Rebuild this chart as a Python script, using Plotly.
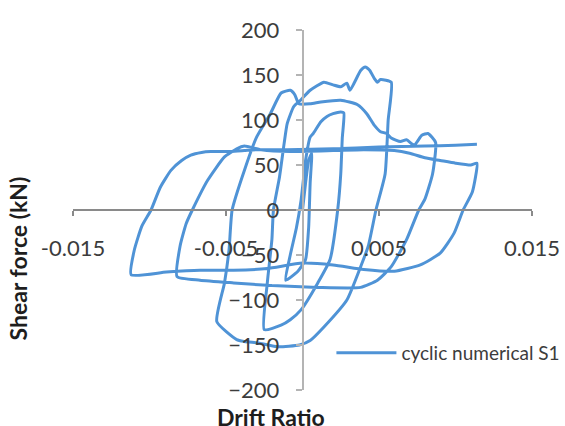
import plotly.graph_objects as go

# Load path of the cyclic analysis, split into half-cycles (drift ratio, shear force in kN)
drift_initial = [0.0, 0.0002, 0.0004, 0.0006]
shear_initial = [0, 30, 55, 63]

drift_unload_1 = [0.0005, 0.0004, 0.0002, -0.0003, -0.0011]
shear_unload_1 = [30, -20, -55, -68, -78]

drift_reload_1 = [-0.0008, -0.0004, -0.0001, 0.0001, 0.0002, 0.0005, 0.0007, 0.0012, 0.0016, 0.0020, 0.0025, 0.0027]
shear_reload_1 = [-50, -20, 10, 40, 55, 81, 85, 98, 104, 107, 109, 108]

drift_unload_2 = [0.0026, 0.0025, 0.0023, 0.0018, 0.0010, -0.0001, -0.0008, -0.0014, -0.0025]
shear_unload_2 = [80, 40, 0, -55, -81, -111, -122, -128, -133]

drift_reload_2 = [-0.0023, -0.0020, -0.0019, -0.0015, -0.0012, -0.0010, -0.00057, -0.00013, 0.0005, 0.0014,
                  0.0020, 0.0025, 0.0029, 0.0031, 0.0038, 0.0041, 0.0044, 0.0047, 0.0049, 0.0051, 0.0058]
shear_reload_2 = [-81, -33, 0, 37, 74, 96, 115, 122, 133, 142,
                  139, 137, 141, 133, 155, 159, 155, 146, 142, 145, 142]

drift_unload_3 = [0.0056, 0.0054, 0.0048, 0.0043, 0.0038, 0.0029, 0.0014, 0.0005, -0.0002, -0.0016,
                  -0.0028, -0.0038, -0.0043, -0.0056]
shear_unload_3 = [100, 40, 0, -40, -63, -100, -130, -145, -150, -152,
                  -148, -146, -144, -124]

drift_reload_3 = [-0.0051, -0.0048, -0.0046, -0.0038, -0.0030, -0.0021, -0.0014, -0.0008, -0.0005, -0.00024,
                  0.0005, 0.0012, 0.0025, 0.0036, 0.0042, 0.0047, 0.0051, 0.0055, 0.0058, 0.0064,
                  0.0068, 0.0073, 0.0078, 0.0082, 0.0087]
shear_reload_3 = [-81, -44, 0, 44, 81, 107, 130, 133, 128, 118,
                  118, 120, 122, 117, 107, 94, 87, 85, 80, 76,
                  78, 72, 83, 85, 75]

drift_unload_4 = [0.0085, 0.0080, 0.0076, 0.0068, 0.0058, 0.0049, 0.0038, 0.0010, -0.0020, -0.0045, -0.0067, -0.0082]
shear_unload_4 = [40, 12, 0, -33, -63, -78, -86, -86, -84, -81, -78, -74]

drift_reload_4 = [-0.0080, -0.0076, -0.0072, -0.0062, -0.0051, -0.0043, -0.0038, -0.0027, -0.0008, 0.0020,
                  0.0040, 0.0060, 0.0070, 0.0080, 0.0090, 0.0100, 0.0110, 0.0114]
shear_reload_4 = [-40, -15, 0, 33, 59, 68, 71, 67, 65, 66,
                  67, 66, 63, 58, 55, 52, 50, 52]

drift_unload_5 = [0.0111, 0.0105, 0.0099, 0.0090, 0.0077, 0.0060, 0.0040, 0.0020, 0.0000, -0.0023,
                  -0.0045, -0.0067, -0.0089, -0.0112]
shear_unload_5 = [20, 0, -26, -48, -61, -68, -66, -61, -59, -65,
                  -67, -67, -69, -72]

drift_reload_5 = [-0.0110, -0.0105, -0.0099, -0.0093, -0.0086, -0.0079, -0.0073, -0.0066, -0.0060, -0.0047,
                  -0.0038, -0.0030, -0.0010, 0.0020, 0.0050, 0.0080, 0.0100, 0.0114]
shear_reload_5 = [-45, -18, 0, 25, 44, 55, 61, 64, 65, 65,
                  66, 67, 67, 68, 70, 71, 72, 73]

drift_ratio = (drift_initial + drift_unload_1 + drift_reload_1 + drift_unload_2 + drift_reload_2
               + drift_unload_3 + drift_reload_3 + drift_unload_4 + drift_reload_4
               + drift_unload_5 + drift_reload_5)
shear_force = (shear_initial + shear_unload_1 + shear_reload_1 + shear_unload_2 + shear_reload_2
               + shear_unload_3 + shear_reload_3 + shear_unload_4 + shear_reload_4
               + shear_unload_5 + shear_reload_5)

x_tick_values = [-0.015, -0.005, 0.005, 0.015]
x_tick_labels = ["-0.015", "-0.005", "0.005", "0.015"]
y_tick_values = [-200, -150, -100, -50, 0, 50, 100, 150, 200]

LINE_BLUE = "#4f93d6"
TEXT = "#3c3c3c"
FONT = "Lato"

fig = go.Figure()
fig.add_trace(go.Scatter(
    x=drift_ratio, y=shear_force, mode="lines",
    name="cyclic numerical S1",
    line=dict(color=LINE_BLUE, width=3, shape="spline", smoothing=0.5),
))

fig.update_layout(
    width=565, height=426,
    margin=dict(l=73, r=33, t=30, b=36, autoexpand=False),
    paper_bgcolor="white", plot_bgcolor="white",
    font=dict(family=FONT, color=TEXT, size=22),
    showlegend=True,
    legend=dict(
        x=0.563, y=0.103, xanchor="left", yanchor="middle",
        bgcolor="rgba(0,0,0,0)", borderwidth=0,
        font=dict(family=FONT, size=19, color=TEXT),
        itemwidth=60,
    ),
    xaxis=dict(
        range=[-0.015, 0.015], anchor="free", position=0.5,
        showgrid=False, zeroline=False,
        showline=True, linecolor="#8a8a8a", linewidth=2,
        ticks="outside", ticklen=5, tickwidth=1.5, tickcolor="#8a8a8a",
        tickvals=x_tick_values, ticktext=x_tick_labels,
        tickfont=dict(family=FONT, size=22, color=TEXT),
        ticklabelstandoff=14,
    ),
    yaxis=dict(
        range=[-200, 200], anchor="free", position=0.5,
        showgrid=False, zeroline=False,
        showline=True, linecolor="#b4b4b4", linewidth=1.5,
        ticks="outside", ticklen=6, tickwidth=1.5, tickcolor="#b4b4b4",
        tickvals=y_tick_values,
        tickfont=dict(family=FONT, size=22, color=TEXT),
        ticklabelstandoff=12,
    ),
    annotations=[
        dict(text="<b>Shear force (kN)</b>", xref="paper", yref="paper",
             x=-0.12, y=0.365, textangle=-90, showarrow=False,
             xanchor="center", yanchor="middle",
             font=dict(family=FONT, size=23, color="#1e1e1e")),
        dict(text="<b>Drift Ratio</b>", xref="paper", yref="paper",
             x=0.432, y=-0.075, showarrow=False,
             xanchor="center", yanchor="middle",
             font=dict(family=FONT, size=23, color="#1e1e1e")),
    ],
)

fig.write_html("out.html")
